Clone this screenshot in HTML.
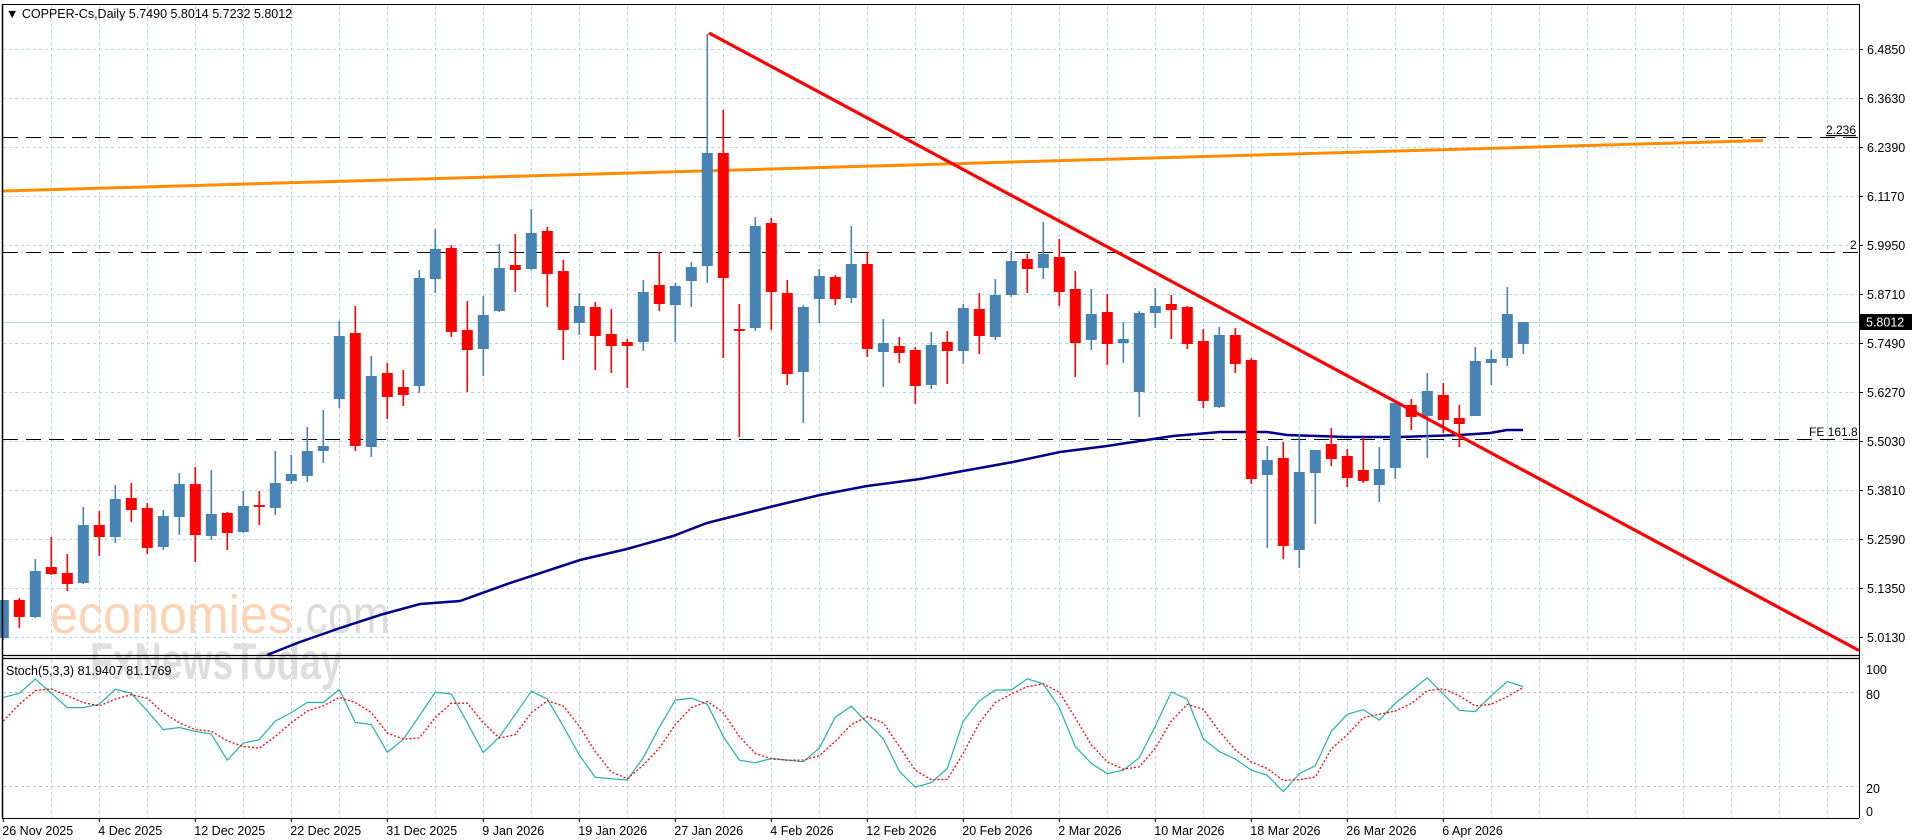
<!DOCTYPE html>
<html><head><meta charset="utf-8"><style>
html,body{margin:0;padding:0;background:#fff;}
svg{display:block;font-family:"Liberation Sans",Tahoma,sans-serif;}
</style></head><body>
<svg id="s" width="1916" height="840" xmlns="http://www.w3.org/2000/svg">
<rect width="1916" height="840" fill="#fff"/>
<g id="grid"></g>
<text x="50" y="633" font-size="54" fill="#fcd3b5" textLength="243" lengthAdjust="spacingAndGlyphs">economies</text>
<text x="293" y="633" font-size="54" fill="#dcdcdc" textLength="97" lengthAdjust="spacingAndGlyphs">.com</text>
<text x="90" y="679" font-size="52" fill="#dedede" font-weight="bold" textLength="252" lengthAdjust="spacingAndGlyphs">FxNewsToday</text>
<g id="lines"></g>
<g id="candles"></g>
<g id="over"></g>
</svg>
<script>
const NS="http://www.w3.org/2000/svg";
function el(p,t,a,txt){const e=document.createElementNS(NS,t);for(const k in a)e.setAttribute(k,a[k]);if(txt!==undefined)e.textContent=txt;document.getElementById(p).appendChild(e);return e;}
const bx=i=>3.3+16*i;
for(let k=1;k<=38;k++){const x=Math.round(bx(3*k))+0.5;if(x>1858)break;
 el("grid","line",{x1:x,y1:6,x2:x,y2:654,stroke:"#add8e6","stroke-dasharray":"3,3","stroke-width":1});
 el("grid","line",{x1:x,y1:660,x2:x,y2:817,stroke:"#add8e6","stroke-dasharray":"3,3","stroke-width":1});}
const labs=["6.4850","6.3630","6.2390","6.1170","5.9950","5.8710","5.7490","5.6270","5.5030","5.3810","5.2590","5.1350","5.0130"];
labs.forEach((l,k)=>{const y=Math.round(49.3+49*k)+0.5;
 el("grid","line",{x1:3,y1:y,x2:1858,y2:y,stroke:"#add8e6","stroke-dasharray":"3,3"});
 el("over","line",{x1:1859,y1:y,x2:1863,y2:y,stroke:"#000"});
 el("over","text",{x:1867,y:y+4.5,"font-size":"12.5",fill:"#000"},l);});
[692.5,786.5].forEach(y=>el("grid","line",{x1:3,y1:y,x2:1858,y2:y,stroke:"#c0c0c0","stroke-dasharray":"3,3"}));
el("lines","line",{x1:3,y1:322.5,x2:1858,y2:322.5,stroke:"#b0e0e6","stroke-width":1});
[137.5,252.5,439.5].forEach(y=>el("lines","line",{x1:3,y1:y,x2:1858,y2:y,stroke:"#000","stroke-dasharray":"15,8","stroke-width":1}));
el("lines","text",{x:1826,y:134,"font-size":"12",fill:"#000","text-decoration":"underline"},"2.236");
el("lines","text",{x:1850,y:249,"font-size":"12",fill:"#000"},"2");
el("lines","text",{x:1809,y:436,"font-size":"12",fill:"#000"},"FE 161.8");
const ma=[[267,655],[300,642],[340,628],[380,615],[420,604],[460,601],[510,583],[580,560],[627,549],[673,536],[707,523],[770,507],[820,495],[867,486],[920,479],[963,471],[1013,462],[1060,452],[1107,446],[1153,439],[1173,436],[1220,432],[1267,432],[1287,435],[1347,437],[1400,437],[1460,435],[1490,433],[1507,430],[1523,430]];
el("lines","polyline",{points:ma.map(p=>p.join(",")).join(" "),fill:"none",stroke:"#00008b","stroke-width":2.5});
el("lines","line",{x1:3,y1:191,x2:1763,y2:140.5,stroke:"#ff8c00","stroke-width":3});
const C=[
["b",600,638,600,640],["r",600,617,598,628],["b",571,617,559,618],["r",567,574,537,575],["r",573,584,554,591],
["b",525,583,507,584],["r",525,537,511,556],["b",499,537,485,543],["r",498,510,483,522],["r",508,548,503,554],
["b",516,547,510,550],["b",484,517,473,535],["r",484,535,467,562],["b",514,536,470,540],["r",513,533,512,550],
["b",506,532,491,533],["r",505,507,491,525],["b",483,508,451,515],["b",474,481,455,484],["b",451,476,427,482],
["b",446,451,410,463],["b",336,399,321,408],["r",333,446,306,451],["b",376,447,356,457],["r",373,397,363,419],
["r",387,395,370,406],["b",278,386,270,393],["b",249,279,229,293],["r",248,332,245,337],["r",330,350,301,392],
["b",315,349,296,376],["b",268,311,244,312],["r",265,270,234,292],["b",233,269,209,270],["r",231,274,227,307],
["r",271,330,260,360],["b",306,323,293,335],["r",307,336,302,370],["r",334,346,309,373],["r",342,346,339,388],
["b",292,342,280,351],["r",285,304,252,311],["b",286,305,283,342],["b",267,281,262,307],["b",153,266,34,283],
["r",153,278,110,358],["r",329,331,304,437],["b",226,328,217,331],["r",223,292,218,330],["r",293,374,280,385],
["b",307,372,305,423],["b",276,299,269,323],["r",277,299,275,305],["b",264,298,226,303],["r",264,349,252,357],
["b",343,352,319,387],["r",346,353,337,363],["r",350,386,347,404],["b",345,385,332,389],["r",342,351,331,384],
["b",308,351,304,364],["r",309,336,293,354],["b",295,337,279,340],["b",261,295,251,297],["r",259,269,254,293],
["b",254,268,222,279],["r",257,292,239,306],["r",289,343,271,377],["b",314,340,289,350],["r",312,344,294,365],
["b",339,343,322,363],["b",313,392,311,417],["b",306,313,288,328],["r",304,310,295,339],["r",307,344,306,349],
["r",341,401,329,408],["b",335,407,327,408],["r",335,364,328,373],["r",360,479,358,484],["b",460,475,446,548],
["r",458,546,442,559],["b",472,550,434,568],["b",450,473,450,524],["r",444,459,428,466],["r",456,478,449,487],
["r",470,481,437,483],["b",469,485,447,502],["b",403,468,400,479],["r",405,417,399,430],["b",391,416,373,458],
["r",395,420,383,433],["r",418,424,405,447],["b",361,416,347,416],["b",359,363,350,385],["b",314,358,287,366],
["b",322,344,322,354]];
C.forEach((c,i)=>{const x=bx(i),col=c[0]=="b"?"#4682b4":"#ff0000";
 el("candles","line",{x1:x,y1:c[3],x2:x,y2:c[4],stroke:col,"stroke-width":1.6});
 el("candles","rect",{x:x-5.5,y:c[1],width:11,height:Math.max(2,c[2]-c[1]),fill:col});});
el("candles","line",{x1:709,y1:33,x2:1859,y2:650.5,stroke:"#ff0000","stroke-width":3.2});
const t1=[140,128,86,128,170,170,160,116,128,180,235,229,240,248,325,275,265,210,185,155,155,117,214,220,302,264,195,125,130,215,303,257,190,122,145,225,310,376,380,384,318,228,148,142,160,255,325,333,320,325];
const t2=[330,290,198,166,215,262,358,405,392,350,210,150,118,118,85,100,170,285,335,365,355,318,225,124,145,262,300,322,355,370,418,365,342,240,190,176,207,157,120,82,130,178,182,135,93,108];
const r1=[210,160,120,115,135,155,165,145,132,143,185,215,235,240,268,285,290,255,215,180,165,140,155,185,245,263,260,200,157,157,215,260,250,185,150,165,225,300,360,380,340,290,220,170,152,185,255,305,322,325];
const r2=[325,312,270,220,197,215,285,355,383,382,305,215,155,130,108,100,125,200,280,330,352,345,290,210,160,175,240,295,330,350,385,383,375,292,250,200,190,180,158,120,115,135,165,160,138,110];
const T=t1.concat(t2),R=r1.concat(r2);
const sp=a=>a.map((z,i)=>bx(i).toFixed(1)+","+(650+z/2.953).toFixed(1)).join(" ");
el("over","polyline",{points:sp(T),fill:"none",stroke:"#20b2aa","stroke-width":1.2});
el("over","polyline",{points:sp(R),fill:"none",stroke:"#ff0000","stroke-width":1.3,"stroke-dasharray":"2,2"});
el("over","line",{x1:2.5,y1:4,x2:2.5,y2:818,stroke:"#000","stroke-width":1.5});
el("over","line",{x1:2,y1:4.5,x2:1859,y2:4.5,stroke:"#000"});
el("over","line",{x1:1859.5,y1:4,x2:1859.5,y2:818,stroke:"#000"});
el("over","line",{x1:2,y1:655.5,x2:1859,y2:655.5,stroke:"#000","stroke-width":1.2});
el("over","line",{x1:2,y1:658.5,x2:1859,y2:658.5,stroke:"#000","stroke-width":1.2});
el("over","line",{x1:2,y1:818.5,x2:1859,y2:818.5,stroke:"#000"});
el("over","rect",{x:1860,y:314,width:52,height:16,fill:"#000"});
el("over","text",{x:1866,y:326.5,"font-size":"12.5",fill:"#fff"},"5.8012");
[["100",670],["80",695],["20",789],["0",812]].forEach(a=>el("over","text",{x:1866,y:a[1]+4,"font-size":"12.5",fill:"#000"},a[0]));
el("over","text",{x:6,y:18,"font-size":"12.5",fill:"#000"},"\u25BC COPPER-Cs,Daily  5.7490 5.8014 5.7232 5.8012");
el("over","text",{x:6,y:675,"font-size":"12.5",fill:"#000"},"Stoch(5,3,3) 81.9407 81.1769");
const D=["26 Nov 2025","4 Dec 2025","12 Dec 2025","22 Dec 2025","31 Dec 2025","9 Jan 2026","19 Jan 2026","27 Jan 2026","4 Feb 2026","12 Feb 2026","20 Feb 2026","2 Mar 2026","10 Mar 2026","18 Mar 2026","26 Mar 2026","6 Apr 2026"];
D.forEach((d,k)=>{const x=bx(6*k);el("over","line",{x1:x,y1:818,x2:x,y2:822,stroke:"#000"});
 el("over","text",{x:Math.max(2,x-1),y:835,"font-size":"12.5",fill:"#000"},d);});
</script>
</body></html>
